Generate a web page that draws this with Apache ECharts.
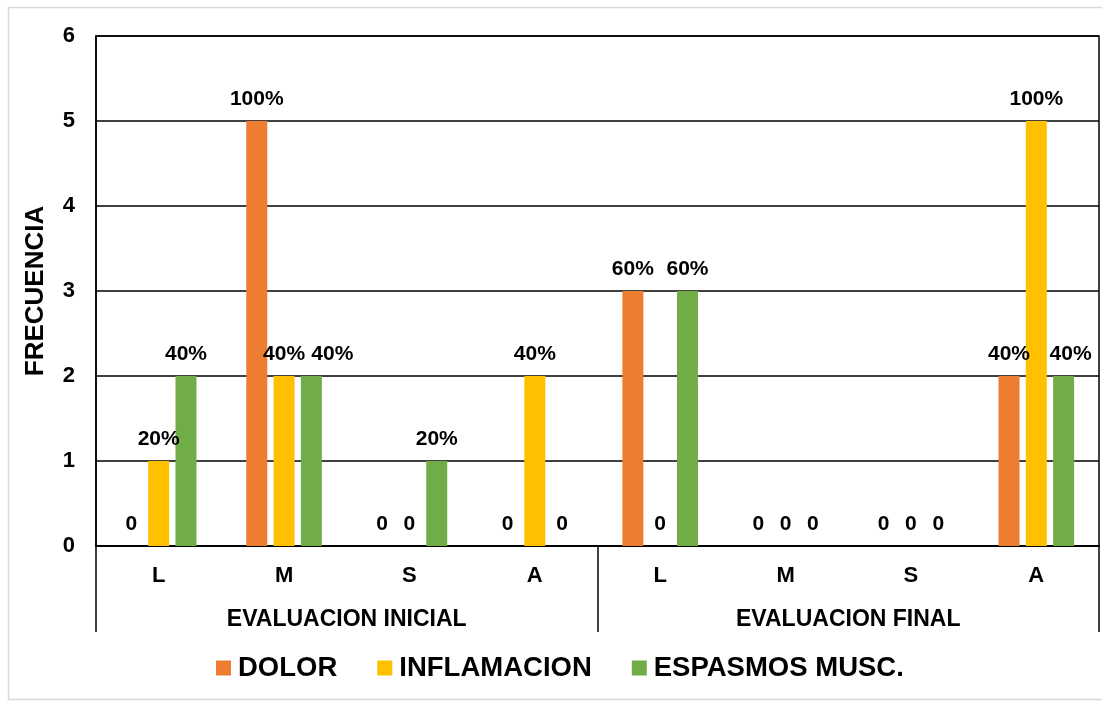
<!DOCTYPE html>
<html>
<head>
<meta charset="utf-8">
<script src="https://cdn.jsdelivr.net/npm/echarts@6/dist/echarts.min.js"></script>
<style>
html,body{margin:0;padding:0;background:#fff;}
#chart{width:1102px;height:704px;}
</style>
</head>
<body>
<div id="chart"></div>
<script>
var categories = ['L','M','S','A','L','M','S','A'];
var groups = ['EVALUACION INICIAL','EVALUACION FINAL'];
var seriesNames = ['DOLOR','INFLAMACION','ESPASMOS MUSC.'];
var dolor = [0,5,0,0,3,0,0,2];
var inflamacion = [1,2,0,2,0,0,0,5];
var espasmos = [2,2,1,0,3,0,0,2];
var dolorLabels = ['0','100%','0','0','60%','0','0','40%'];
var inflamacionLabels = ['20%','40%','0','40%','0','0','0','100%'];
var espasmosLabels = ['40%','40%','20%','0','60%','0','0','40%'];
var yTicks = [0,1,2,3,4,5,6];
var colors = ['#ED7D31','#FFC000','#70AD47'];

var FONT = '"Liberation Sans", Arial, sans-serif';
var chart = echarts.init(document.getElementById('chart'), null, {renderer:'canvas'});

// label shifts to avoid overlap (layout only)
var labelShift = {2: {1: 21, 7: 7}};

function mkSeries(idx, values, labels){
  var shifts = labelShift[idx] || {};
  var data = values.map(function(v, i){
    var d = {value: v};
    if (shifts[i] !== undefined) d.label = {offset: [shifts[i], 0]};
    return d;
  });
  return {
    name: seriesNames[idx], type: 'bar', data: data,
    barWidth: 21, barGap: '30%',
    itemStyle: {color: colors[idx]},
    label: {
      show: true, position: 'top', distance: 11,
      fontFamily: FONT, fontWeight: 'bold', fontSize: 21, color: '#000',
      formatter: function(p){ return labels[p.dataIndex]; }
    }
  };
}

chart.setOption({
  animation: false,
  backgroundColor: '#fff',
  color: colors,
  graphic: [{
    type: 'rect', shape: {x: 8.5, y: 7.5, width: 1110, height: 692},
    style: {fill: 'none', stroke: '#d9d9d9', lineWidth: 1.5}, silent: true, z: -1
  }],
  legend: {
    data: seriesNames, left: 216, top: 654, padding: 0,
    itemWidth: 15, itemHeight: 15, itemGap: 40, icon: 'rect',
    textStyle: {fontFamily: FONT, fontWeight: 'bold', fontSize: 27.5, color: '#000', padding: [0,0,0,2]}
  },
  grid: {
    left: 96, right: 3, top: 36, bottom: 158, containLabel: false,
    show: true, borderColor: '#000', borderWidth: 1.5, backgroundColor: 'transparent'
  },
  xAxis: [{
    type: 'category', data: categories, position: 'bottom',
    axisLine: {show: true, lineStyle: {color: '#000', width: 2}},
    axisTick: {show: false},
    axisLabel: {margin: 19, fontFamily: FONT, fontWeight: 'bold', fontSize: 22, color: '#000'}
  },{
    type: 'category', data: groups, position: 'bottom', offset: 0,
    axisLine: {show: false},
    axisTick: {show: true, length: 86, lineStyle: {color: '#000', width: 1.5}},
    axisLabel: {margin: 62, fontFamily: FONT, fontWeight: 'bold', fontSize: 23, color: '#000'},
    splitLine: {show: false}
  }],
  yAxis: {
    type: 'value', min: yTicks[0], max: yTicks[yTicks.length-1], interval: 1,
    name: 'FRECUENCIA', nameLocation: 'middle', nameRotate: 90, nameGap: 47,
    nameTextStyle: {fontFamily: FONT, fontWeight: 'bold', fontSize: 26, color: '#000'},
    axisLine: {show: true, lineStyle: {color: '#000', width: 1.5}},
    axisTick: {show: false},
    axisLabel: {margin: 21, fontFamily: FONT, fontWeight: 'bold', fontSize: 22, color: '#000'},
    splitLine: {show: true, lineStyle: {color: '#000', width: 1.5}}
  },
  series: [
    mkSeries(0, dolor, dolorLabels),
    mkSeries(1, inflamacion, inflamacionLabels),
    mkSeries(2, espasmos, espasmosLabels)
  ]
});
</script>
</body>
</html>
